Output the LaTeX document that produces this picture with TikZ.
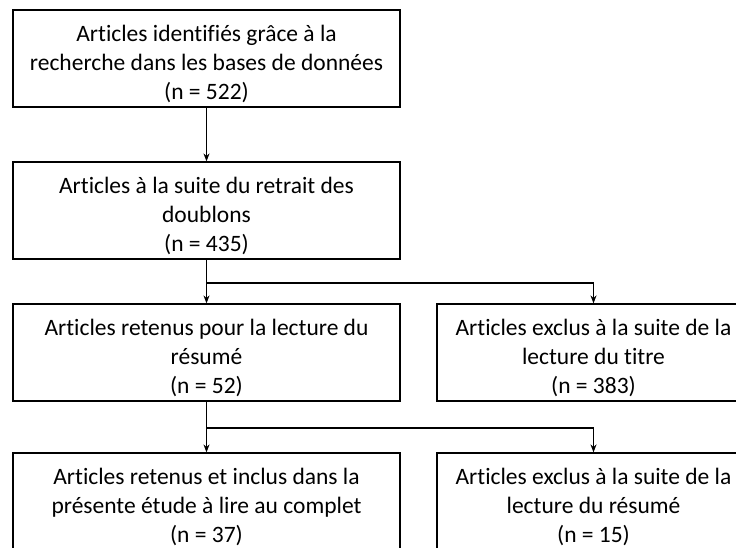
\documentclass[tikz,border=0pt]{standalone}
\usepackage{fontspec}
\setmainfont{Carlito}[Ligatures=NoCommon]
\usetikzlibrary{arrows.meta}

\begin{document}
\begin{tikzpicture}[x=1pt, y=-1pt,
  box/.style={draw, line width=1.2pt, minimum width=387pt, minimum height=97pt,
    align=center, inner sep=0pt, font=\fontsize{23.5}{29}\selectfont,
    text height=88pt, text depth=6pt},
  sidebox/.style={box, minimum width=313pt},
  flow/.style={line width=1.2pt, -{Stealth[length=8pt, width=6pt]}}]
  \useasboundingbox (0,0) rectangle (736,547);
  \clip (0,0) rectangle (736,547);
  % left column
  \node[box] (ident) at (206.5,58.5) {Articles identifiés grâce à la\\recherche dans les bases de données\\(n = 522)};
  \node[box] (doublons) at (206.5,210.5) {Articles à la suite du retrait des\\doublons\\(n = 435)};
  \node[box] (resume) at (206.5,352.5) {Articles retenus pour la lecture du\\résumé\\(n = 52)};
  \node[box] (inclus) at (206.5,501.5) {Articles retenus et inclus dans la\\présente étude à lire au complet\\(n = 37)};
  % right column
  \node[sidebox] (titre) at (593.5,352.5) {Articles exclus à la suite de la\\lecture du titre\\(n = 383)};
  \node[sidebox] (exresume) at (593.5,501.5) {Articles exclus à la suite de la\\lecture du résumé\\(n = 15)};
  % connectors
  \coordinate (split1) at (206.5,283);
  \coordinate (split2) at (206.5,428);
  \draw[flow] (ident) -- (doublons);
  \draw[line width=1.2pt] (doublons.south) -- (split1);
  \draw[flow] (split1) -- (resume.north);
  \draw[flow] (split1) -| (titre.north);
  \draw[line width=1.2pt] (resume.south) -- (split2);
  \draw[flow] (split2) -- (inclus.north);
  \draw[flow] (split2) -| (exresume.north);
\end{tikzpicture}
\end{document}
